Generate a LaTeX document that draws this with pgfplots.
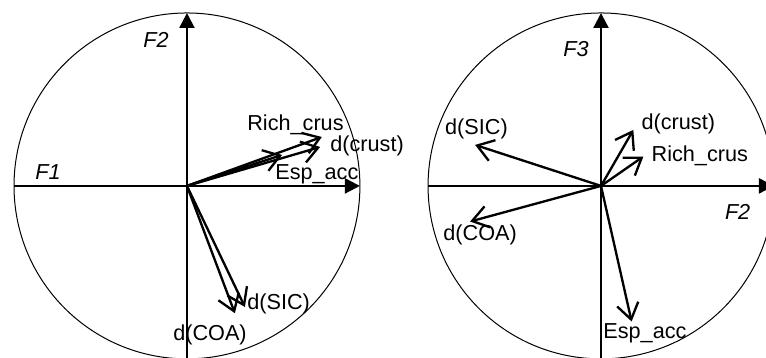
\documentclass[border=0pt]{standalone}
\usepackage{fontspec}
\setmainfont{Liberation Sans}
\usepackage{pgfplots}
\usepackage{pgfplotstable}
\pgfplotsset{compat=1.18}
\usetikzlibrary{arrows.meta}

% loadings on F1 (u) / F2 (v)
\pgfplotstableread{
u v
0.780 0.283
0.770 0.225
0.550 0.179
0.335 -0.700
0.277 -0.736
}\loadsA

% loadings on F2 (u) / F3 (v)
\pgfplotstableread{
u v
0.245 0.170
0.187 0.324
0.177 -0.784
-0.728 0.237
-0.757 -0.206
}\loadsB

\pgfplotsset{
  corr/.style={
    x=103.8pt, y=103.8pt,
    hide axis, clip=false,
    ymin=-0.994, ymax=1.075,
  },
  vec/.style={
    black, line width=1.4pt, no markers,
    -{Straight Barb[length=9.5pt,width=13pt]},
  },
}
\tikzset{
  lab/.style={anchor=base west, inner sep=0pt, font=\fontsize{13pt}{15pt}\selectfont},
  ax/.style={line width=1.3pt, -{Triangle[length=9pt,width=9pt]}},
}

\begin{document}
\begin{tikzpicture}
\begin{axis}[corr, name=L, xmin=-1.081, xmax=1.197]
\draw[line width=0.6pt] (axis cs:0,0) circle[radius=103.8pt];
\draw[ax] (axis cs:-1,0) -- (axis cs:1,0);
\draw[ax] (axis cs:0,-1) -- (axis cs:0,1);
\addplot[vec, quiver={u=\thisrow{u}, v=\thisrow{v}}] table[x expr=0, y expr=0] {\loadsA};
\node[lab] at (axis cs:-0.254,0.803) {\itshape F2};
\node[lab] at (axis cs:-0.879,0.035) {\itshape F1};
\node[lab] at (axis cs:0.347,0.318) {Rich\_crus};
\node[lab] at (axis cs:0.827,0.197) {d(crust)};
\node[lab] at (axis cs:0.509,0.035) {Esp\_acc};
\node[lab] at (axis cs:0.347,-0.713) {d(SIC)};
\node[lab] at (axis cs:-0.081,-0.894) {d(COA)};
\end{axis}

\begin{axis}[corr, name=R, at={(L.south east)}, anchor=south west, xmin=-1.197, xmax=0.954]
\draw[line width=0.6pt] (axis cs:0,0) circle[radius=103.8pt];
\draw[ax] (axis cs:-1,0) -- (axis cs:1,0);
\draw[ax] (axis cs:0,-1) -- (axis cs:0,1);
\addplot[vec, quiver={u=\thisrow{u}, v=\thisrow{v}}] table[x expr=0, y expr=0] {\loadsB};
\node[lab] at (axis cs:-0.22,0.747) {\itshape F3};
\node[lab] at (axis cs:0.715,-0.197) {\itshape F2};
\node[lab] at (axis cs:-0.903,0.295) {d(SIC)};
\node[lab] at (axis cs:-0.913,-0.318) {d(COA)};
\node[lab] at (axis cs:0.233,0.328) {d(crust)};
\node[lab] at (axis cs:0.291,0.142) {Rich\_crus};
\node[lab] at (axis cs:0.012,-0.88) {Esp\_acc};
\end{axis}

\pgfresetboundingbox
\path[use as bounding box] (L.south west) rectangle (R.north east);
\end{tikzpicture}
\end{document}
